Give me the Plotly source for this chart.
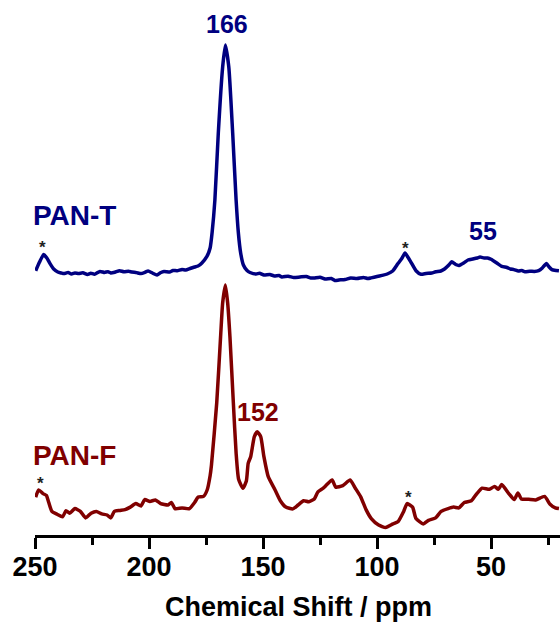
import plotly.graph_objects as go

# ---- data (chemical shift in ppm, intensity in a.u.) ----
pan_t_ppm = [249.7, 248.0, 246.2, 244.8, 243.4, 241.8, 240.0, 238.5, 237.3, 235.5, 234.0, 232.5, 230.9,
             229.0, 227.0, 225.5, 223.9, 221.5, 219.5, 218.0, 216.8, 215.0, 212.9, 211.0, 209.0, 207.5,
             205.5, 203.5, 201.5, 200.4, 198.5, 196.5, 195.0, 193.4, 191.0, 189.5, 187.7, 185.5, 183.9,
             182.0, 180.0, 178.5, 176.8, 174.6, 173.2, 172.3, 171.1, 169.6, 167.7, 166.5, 165.0, 163.3,
             161.8, 160.8, 159.8, 158.6, 157.0, 155.7, 153.0, 151.5, 149.6, 147.0, 145.0, 143.0, 141.7,
             139.0, 136.5, 133.8, 131.0, 129.0, 127.6, 125.0, 122.8, 120.0, 118.5, 116.7, 114.0, 111.5,
             108.8, 106.0, 104.0, 102.6, 100.0, 97.8, 95.5, 93.0, 90.8, 89.0, 87.7, 86.5, 85.2, 82.9,
             80.7, 78.5, 76.0, 74.3, 72.0, 70.4, 68.5, 67.2, 65.5, 64.0, 62.0, 60.1, 58.0, 56.0, 54.8,
             53.0, 51.5, 50.0, 47.5, 45.3, 43.0, 41.5, 39.9, 38.0, 36.5, 35.1, 33.0, 31.0, 29.1, 27.5,
             25.7, 24.5, 23.3, 21.5, 20.2]
pan_t_int = [1.3, 10, 17.4, 14, 8.4, 3, 0, -1, -1.6, -0.5, -2, -1, -1.6,
             -0.8, -2.5, -1.2, -2.3, 0.6, -0.4, 0.3, -0.9, -0.2, 1.3, 0.2, 0.8, 0,
             -0.6, -1.6, 0, 1, -1, -3, -0.8, 0.6, 0, 1.5, 1.3, 2.5, 2,
             3.5, 5, 6, 9.1, 15.6, 24, 40, 72, 139, 205, 227, 205, 139,
             72, 39, 19, 7, 1.5, -0.5, -2, -1.2, -3, -2.5, -4, -3.5, -5,
             -4.2, -5.5, -5, -4.5, -6, -6, -5.2, -7, -6.5, -8.5, -8, -7.5, -6,
             -6.6, -5.5, -6.5, -5.9, -4.5, -3.4, -2, 1.3, 8.4, 14, 19.1, 15, 10.2, 1.3,
             -2.3, -1.5, -1, 0.2, 1, 3, 7, 10.2, 7.5, 6.6, 9, 12, 13, 14, 14.9,
             14, 14, 12.7, 9, 5.6, 4.5, 3, 2.4, 1, 1.5, 0.2, 0.8, 0.5, 1.3, 4,
             8.4, 5, 2.4, 1.6, 1.3]

pan_f_ppm = [249.7, 248.4, 246.5, 245.0, 244.2, 242.6, 240.3, 237.9, 236.4, 234.8, 232.5, 230.1, 227.8,
             225.4, 223.1, 220.7, 218.4, 216.8, 215.2, 212.9, 210.5, 208.2, 205.8, 203.5, 201.9, 199.6,
             197.2, 194.9, 191.7, 190.2, 188.6, 185.5, 182.3, 180.0, 178.4, 176.1, 174.5, 173.2, 172.6,
             170.3, 168.6, 167.7, 166.5, 165.5, 164.5, 163.0, 161.8, 160.7, 158.8, 157.3, 156.5, 155.4,
             153.8, 152.5, 151.0, 149.6, 147.7, 144.7, 142.4, 140.0, 136.9, 134.6, 132.2, 129.9, 127.5,
             125.9, 123.6, 122.0, 119.7, 118.1, 115.0, 111.8, 109.5, 107.1, 104.8, 102.5, 99.3, 96.2,
             93.0, 90.7, 88.3, 86.8, 84.4, 82.9, 79.7, 77.4, 74.3, 71.9, 68.8, 66.4, 64.1, 61.7, 58.6,
             56.2, 53.9, 50.7, 48.4, 46.8, 45.3, 42.2, 39.8, 38.2, 36.7, 33.5, 30.4, 26.5, 24.1, 21.8, 20.2]
pan_f_int = [7.9, 15, 11.4, 9.6, 4.3, -6.4, -9.3, -11.8, -5.7, -8.2, -3.6, -6.4, -12.9,
             -8.2, -6.4, -8.9, -10, -12.9, -6.4, -5.4, -4.6, -2.1, 1.4, -1, 5.4, 3.6,
             5, 1.4, 0, 2.5, -3.6, -2.9, -3.6, 2.5, 7.9, 8.6, 15, 29.3, 40,
             102, 168.3, 202, 220, 202, 168.3, 102, 52, 25.7, 16.8, 24, 41.7, 48.3,
             68.3, 73.3, 68.3, 48.3, 28.3, 15, 4.3, -2.1, -3.9, 0, 4.3, 3.2, 6.1,
             13.2, 16.8, 20.4, 25, 17.9, 19.3, 25, 16.8, 7.9, -4.6, -13.6, -20, -22.5,
             -18.9, -16.4, -6.4, 1.4, -2.1, -13.6, -18.9, -15.4, -12.9, -6.4, -3.6, -2.1, -2.9, 2.5, 4.3,
             11.4, 16.8, 15.7, 18.6, 15.7, 20.4, 11.4, 5.4, 12.1, 6.1, 5.7, 5, 8.6, 0.7, -2.9, -3.6]

offset_t = 263
offset_f = 30

series_names = ["PAN-T", "PAN-F"]
peak_labels = ["166", "55", "152"]
x_ticks = [250, 200, 150, 100, 50]
x_title = "Chemical Shift / ppm"

BLUE = "#000080"
RED = "#800000"
FONT = "Liberation Sans, Arial, sans-serif"

fig = go.Figure()
fig.add_trace(go.Scatter(x=pan_t_ppm, y=[v + offset_t for v in pan_t_int], mode="lines",
                         line=dict(color=BLUE, width=3.5, shape="spline", smoothing=0.5),
                         name=series_names[0], showlegend=False))
fig.add_trace(go.Scatter(x=pan_f_ppm, y=[v + offset_f for v in pan_f_int], mode="lines",
                         line=dict(color=RED, width=3.5, shape="spline", smoothing=0.5),
                         name=series_names[1], showlegend=False))

def label(x, y, text, color, size):
    fig.add_annotation(x=x, y=y, text=text, showarrow=False, xref="x", yref="y",
                       xanchor="center", yanchor="middle",
                       font=dict(family=FONT, size=size, color=color, weight="bold"))

label(165.8, 511.5, peak_labels[0], BLUE, 25)
label(232.5, 319.5, series_names[0], BLUE, 28)
label(53.5, 304.5, peak_labels[1], BLUE, 25)
label(232.5, 80, series_names[1], RED, 28)
label(152.0, 123, peak_labels[2], RED, 25)

star_pos = [(246.5, 293), (87.3, 292), (247.8, 57), (86.4, 43)]
for sx, sy in star_pos:
    fig.add_annotation(x=sx, y=sy - 5, text="<b>*</b>", showarrow=False, xref="x", yref="y",
                       xanchor="center", yanchor="middle",
                       font=dict(family=FONT, size=17, color="#222222"))

# axis title placed as paper annotation below the tick labels
fig.add_annotation(x=0.501, y=-0.1346, xref="paper", yref="paper", text=x_title,
                   showarrow=False, xanchor="center", yanchor="middle",
                   font=dict(family=FONT, size=27, color="black", weight="bold"))

fig.update_layout(
    width=560, height=624,
    margin=dict(l=35, r=0, t=0, b=89),
    paper_bgcolor="white", plot_bgcolor="white",
    xaxis=dict(range=[250, 19.74], tickvals=x_ticks, ticks="outside", ticklen=11, tickwidth=3,
               tickcolor="black", showline=True, linewidth=3, linecolor="black",
               showgrid=False, zeroline=False, ticklabelstandoff=-5,
               tickfont=dict(family=FONT, size=27, color="black", weight="bold"),
               minor=dict(tickvals=[225, 175, 125, 75, 25], ticks="outside", ticklen=7,
                          tickwidth=3, tickcolor="black", showgrid=False)),
    yaxis=dict(range=[0, 535], visible=False, showgrid=False, zeroline=False),
)

fig.write_html("out.html")
